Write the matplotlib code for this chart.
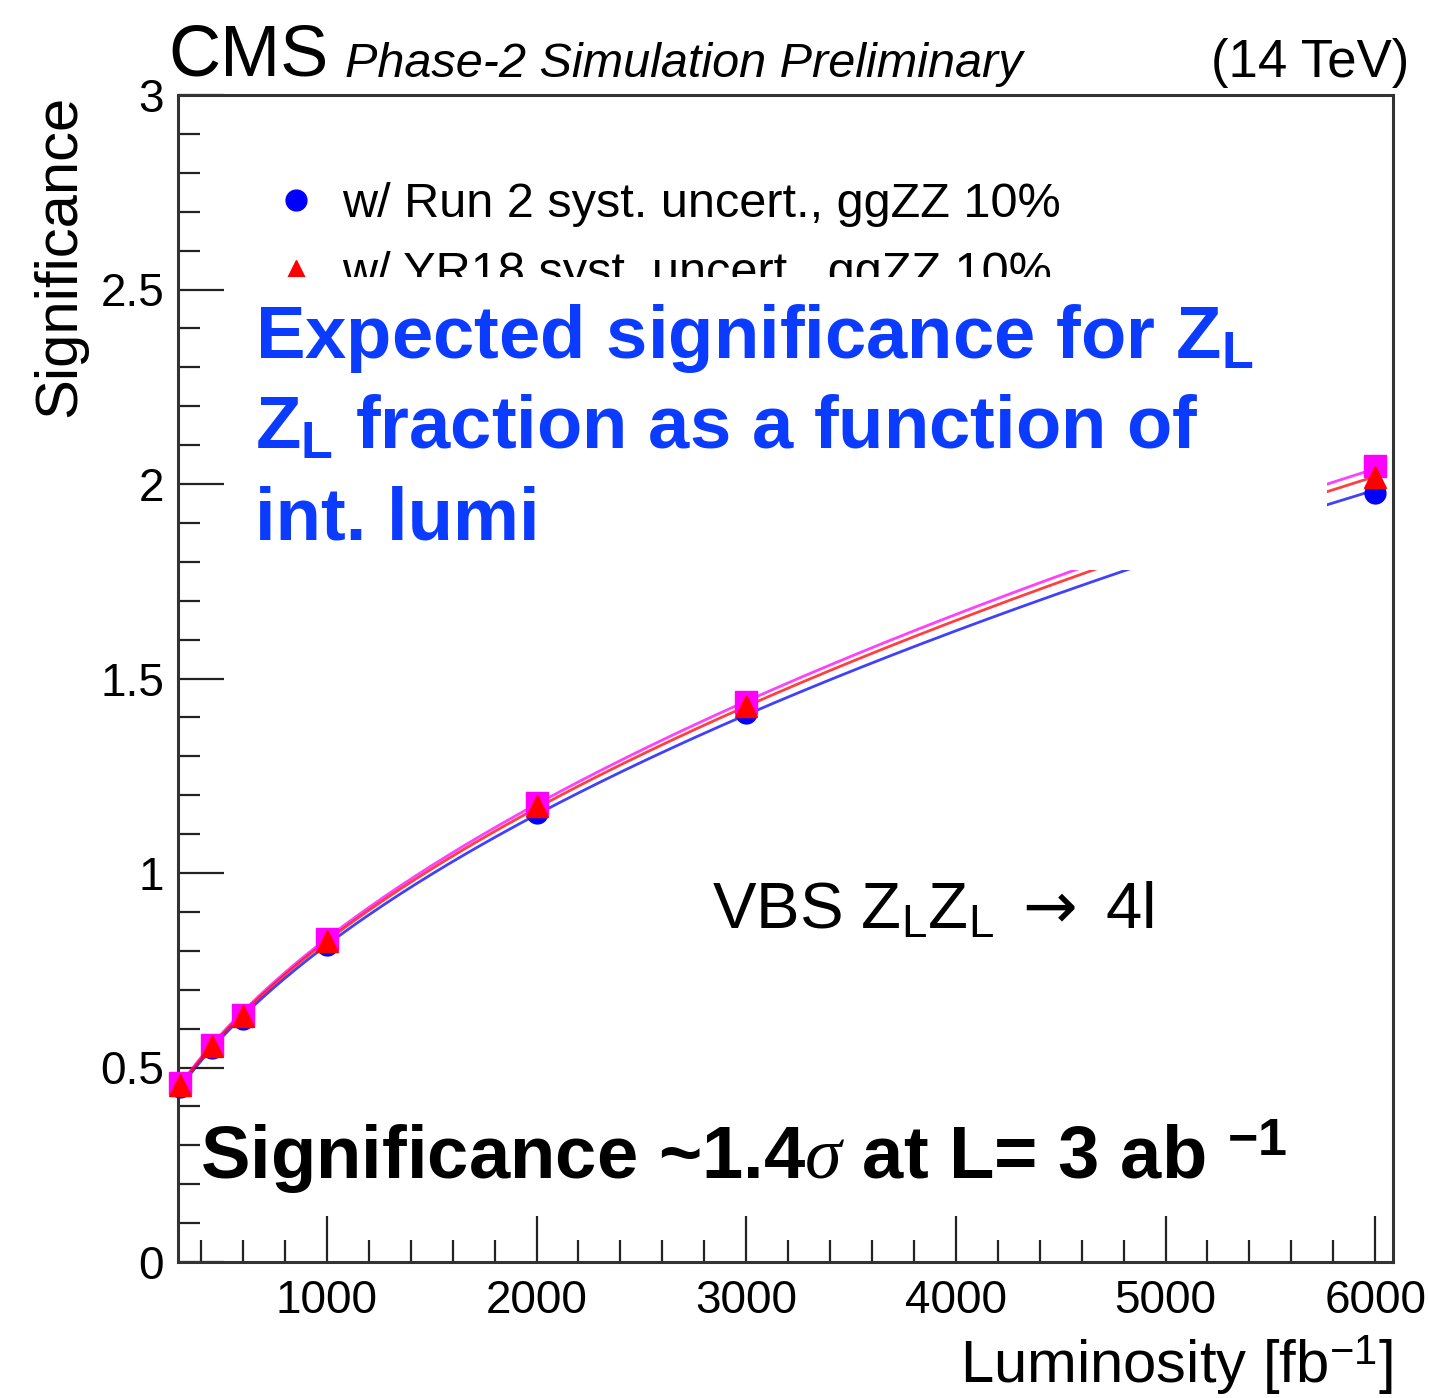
import numpy as np
import matplotlib
matplotlib.use("Agg")
import matplotlib.pyplot as plt
from matplotlib.patches import Rectangle
from matplotlib.lines import Line2D
from matplotlib.ticker import MultipleLocator

plt.rcParams['font.family'] = ['Liberation Sans', 'DejaVu Sans']
plt.rcParams['mathtext.fontset'] = 'custom'
plt.rcParams['mathtext.rm'] = 'Liberation Sans'
plt.rcParams['mathtext.bf'] = 'Liberation Sans:bold'
plt.rcParams['mathtext.it'] = 'Liberation Serif:italic'
plt.rcParams['mathtext.sf'] = 'DejaVu Sans'

# luminosity points [fb^-1] and expected significance
lumi = [300, 450, 600, 1000, 2000, 3000, 6000]
sig_run2 = [0.450, 0.550, 0.625, 0.815, 1.155, 1.412, 1.978]
sig_yr18 = [0.455, 0.555, 0.632, 0.825, 1.172, 1.430, 2.017]
sig_yr18_gg = [0.460, 0.558, 0.636, 0.830, 1.180, 1.440, 2.045]

label_run2 = "w/ Run 2 syst. uncert., ggZZ 10%"
label_yr18 = "w/ YR18 syst. uncert., ggZZ 10%"

W, H = 1429, 1398
fig = plt.figure(figsize=(W / 100, H / 100), dpi=100)
ax = fig.add_axes([178 / W, 1 - 1262 / H, (1393 - 178) / W, (1262 - 95) / H])


def power_fit(x, y):
    # fit y = a * x^b, drawn as the smooth curve
    b, loga = np.polyfit(np.log(x), np.log(y), 1)
    xs = np.linspace(min(x), max(x), 300)
    return xs, np.exp(loga) * xs ** b


series = [
    (sig_run2, 'blue', 'o', 15),
    (sig_yr18_gg, 'magenta', 's', 16),
    (sig_yr18, 'red', '^', 16),
]
for z, (vals, col, mk, ms) in enumerate(series):
    xs, ys = power_fit(lumi, vals)
    ax.plot(xs, ys, color=col, lw=2.0, alpha=0.75, zorder=2 + z)
for z, (vals, col, mk, ms) in enumerate(series):
    ax.plot(lumi, vals, linestyle='none', marker=mk, ms=ms, color=col,
            mec=col, zorder=6 + z, clip_on=False)

ax.set_xlim(290, 6085)
ax.set_ylim(0, 3)
ax.xaxis.set_minor_locator(MultipleLocator(200))
ax.yaxis.set_minor_locator(MultipleLocator(0.1))
ax.set_xticks([1000, 2000, 3000, 4000, 5000, 6000])
ax.set_xticklabels(['1000', '2000', '3000', '4000', '5000', '6000'])
ax.set_yticks([0, 0.5, 1, 1.5, 2, 2.5, 3])
ax.set_yticklabels(['0', '0.5', '1', '1.5', '2', '2.5', '3'])
ax.tick_params(which='both', direction='in', top=False, right=False,
               labelsize=33, color='#222222', width=1.6)
ax.tick_params(which='major', length=33)
ax.tick_params(which='minor', length=16)
ax.tick_params(axis='x', pad=12)
ax.tick_params(axis='y', pad=10)
for s in ax.spines.values():
    s.set_linewidth(2.2)
    s.set_color('#333333')

ax.set_ylabel("Significance", fontsize=43, loc='top')
ax.yaxis.set_label_coords(-0.075, 1.0)
ax.set_xlabel(r"Luminosity [fb$^{\mathrm{-1}}$]", fontsize=43, loc='right')
ax.xaxis.label.set_va('baseline')
ax.xaxis.set_label_coords(1.0, -0.104)

# header
fig.text(168 / W, 1 - 76 / H, "CMS", fontsize=52, va='baseline', ha='left')
fig.text(345 / W, 1 - 77 / H, "Phase-2 Simulation Preliminary", fontsize=35,
         fontstyle='italic', va='baseline', ha='left')
fig.text(1409 / W, 1 - 77 / H, "(14 TeV)", fontsize=38, va='baseline', ha='right')

handles = [
    Line2D([], [], ls='none', marker='o', ms=15, color='blue'),
    Line2D([], [], ls='none', marker='^', ms=13, color='red'),
]
ax.legend(handles, [label_run2, label_yr18], loc='upper left',
          bbox_to_anchor=(272 / W, 1 - 182 / H), bbox_transform=fig.transFigure,
          frameon=False, fontsize=35, handlelength=1.0, handletextpad=0.45,
          labelspacing=0.5, borderpad=0, borderaxespad=0)

fig.text(712 / W, 1 - 928 / H,
         r"VBS Z$_\mathrm{L}$Z$_\mathrm{L}$ $\mathsf{\rightarrow}$ 4l",
         fontsize=47, ha='left', va='baseline')

# white panel with the summary text
ax.add_patch(Rectangle((240 / W, 1 - 570 / H), (1327 - 240) / W, (570 - 277) / H,
                       transform=fig.transFigure, facecolor='white',
                       edgecolor='none', zorder=20, clip_on=False))
blue = '#0a3bff'
lines = [
    r"Expected significance for Z$_\mathbf{L}$",
    r"Z$_\mathbf{L}$ fraction as a function of",
    "int. lumi",
]
for i, txt in enumerate(lines):
    t = fig.text(255 / W, 1 - (358 + 91 * i) / H, txt, fontsize=53.5,
                 fontweight='bold', color=blue, ha='left', va='baseline')
    t.set_zorder(21)

fig.text(200 / W, 1 - 1180 / H,
         r"Significance ~1.4$\sigma$ at L= 3 ab $^{\mathbf{-1}}$",
         fontsize=53.5, fontweight='bold', color='black', ha='left',
         va='baseline', zorder=21)

fig.savefig("out.png", dpi=100)
